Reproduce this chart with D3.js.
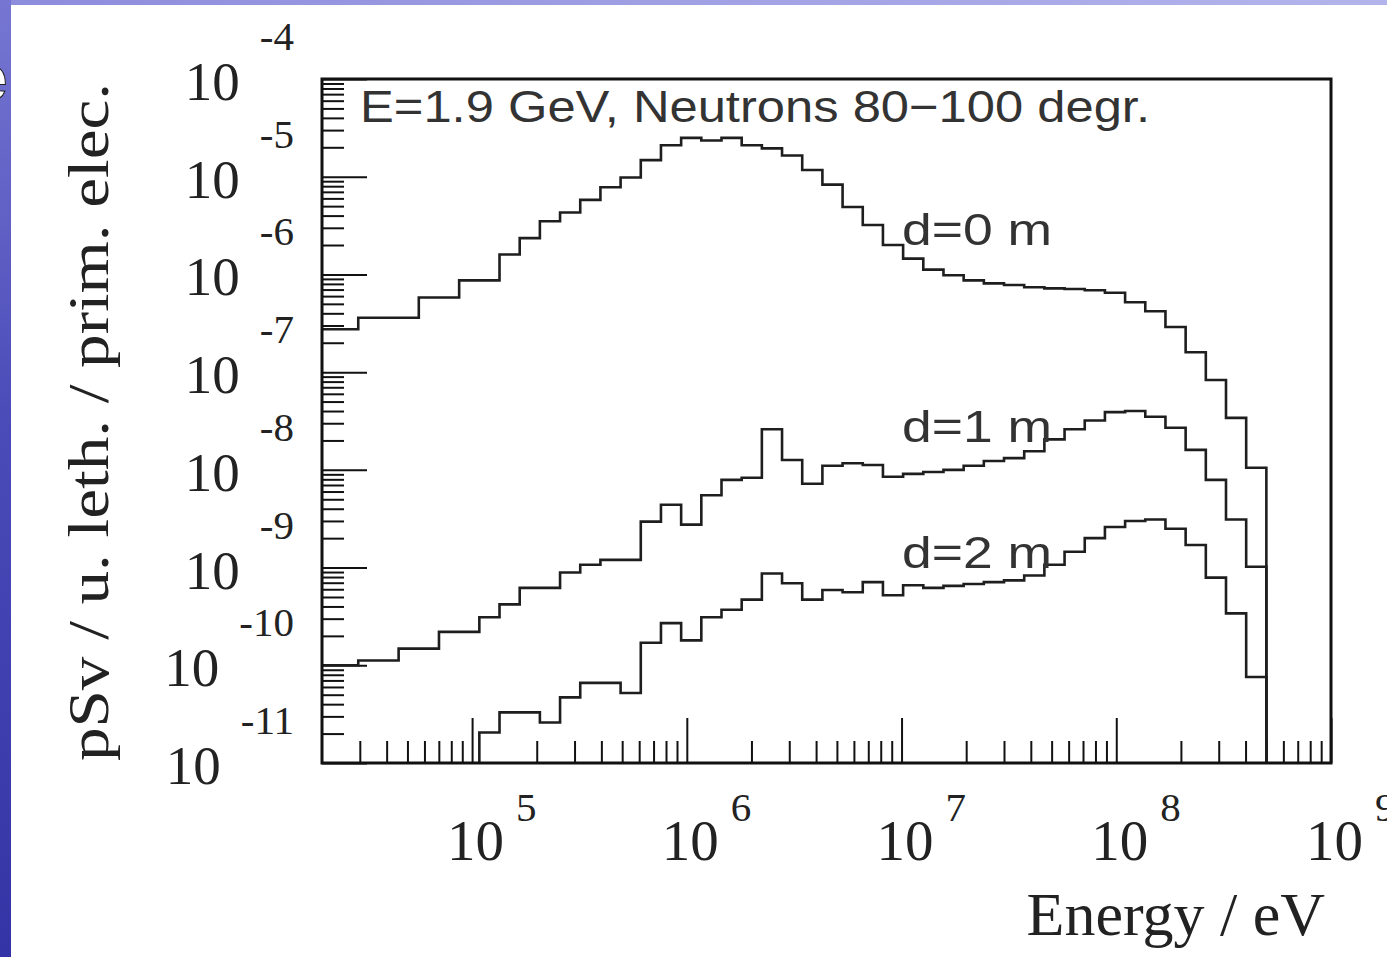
<!DOCTYPE html>
<html lang="en">
<head>
<meta charset="UTF-8">
<title>Neutron dose spectra</title>
<script src="https://d3js.org/d3.v7.min.js"></script>
<style>
  body { margin: 0; background: #fff; overflow: hidden; }
  svg { display: block; }
  .serif { font-family: "Liberation Serif", "Times New Roman", serif; fill: #222; }
  .sans { font-family: "Liberation Sans", Arial, sans-serif; fill: #333; }
</style>
</head>
<body>
<svg id="chart" width="1387" height="957"></svg>
<script>
// histogram binning: 50 log bins from 10 keV to 500 MeV, bins 3..49 fall inside the frame
const binLow = 1e4, binHigh = 5e8, nBins = 50;
const firstBin = 3;

// dose per bin (pSv / u. leth. / prim. elec.), bins 3..49
const dose0 = [2.75e-7, 2.75e-7, 3.6e-7, 3.6e-7, 3.6e-7, 5.8e-7, 5.8e-7, 8.7e-7, 8.7e-7, 1.6e-6,
  2.35e-6, 3.5e-6, 4.3e-6, 5.8e-6, 7.8e-6, 9.8e-6, 1.48e-5, 2.1e-5, 2.5e-5, 2.35e-5,
  2.5e-5, 2.1e-5, 1.95e-5, 1.65e-5, 1.17e-5, 8.3e-6, 4.9e-6, 3.2e-6, 2.0e-6, 1.45e-6,
  1.12e-6, 9.8e-7, 8.7e-7, 8.1e-7, 7.8e-7, 7.4e-7, 7.2e-7, 7.1e-7, 6.9e-7, 6.5e-7,
  5.2e-7, 4.2e-7, 2.9e-7, 1.6e-7, 8.3e-8, 3.4e-8, 1.05e-8];
const dose1 = [1.0e-10, 1.0e-10, 1.12e-10, 1.12e-10, 1.48e-10, 1.48e-10, 2.2e-10, 2.2e-10, 3.1e-10, 4.2e-10,
  6.2e-10, 6.2e-10, 8.9e-10, 1.07e-9, 1.2e-9, 1.2e-9, 2.95e-9, 4.4e-9, 2.75e-9, 5.5e-9,
  7.9e-9, 8.3e-9, 2.6e-8, 1.26e-8, 7.2e-9, 1.1e-8, 1.17e-8, 1.12e-8, 8.5e-9, 9.1e-9,
  9.5e-9, 1.0e-8, 1.1e-8, 1.23e-8, 1.32e-8, 1.55e-8, 2.05e-8, 2.6e-8, 3.2e-8, 3.9e-8,
  4.0e-8, 3.5e-8, 2.7e-8, 1.6e-8, 7.9e-9, 3.1e-9, 1.02e-9];
const dose2 = [null, null, null, null, null, null, null, null, 2.05e-11, 3.3e-11,
  3.3e-11, 2.6e-11, 4.7e-11, 6.6e-11, 6.6e-11, 5.2e-11, 1.7e-10, 2.7e-10, 1.8e-10, 3.1e-10,
  3.7e-10, 4.7e-10, 8.7e-10, 6.9e-10, 4.7e-10, 5.9e-10, 5.6e-10, 7.1e-10, 5.2e-10, 6.6e-10,
  6.2e-10, 6.5e-10, 6.8e-10, 7.1e-10, 7.4e-10, 8.3e-10, 1.07e-9, 1.45e-9, 2.0e-9, 2.6e-9,
  3.0e-9, 3.1e-9, 2.5e-9, 1.7e-9, 7.9e-10, 3.4e-10, 7.6e-11];

const seriesLabels = ["d=0 m", "d=1 m", "d=2 m"];
const titleText = "E=1.9 GeV, Neutrons 80\u2212100 degr.";
const xTitle = "Energy / eV";
const yTitle = "pSv / u. leth. / prim. elec.";
const xExponents = [5, 6, 7, 8, 9];
const yExponents = [-4, -5, -6, -7, -8, -9, -10, -11];

const svg = d3.select("#chart");
const frameL = 322, frameR = 1331, frameT = 79, frameB = 763;

const x = d3.scaleLog().domain([2e4, 1e9]).range([frameL, frameR]);
const y = d3.scaleLog().domain([1e-11, 1e-4]).range([frameB, frameT]);

// slide background strips
const defs = svg.append("defs");
const gl = defs.append("linearGradient").attr("id", "sideStrip").attr("x1", 0).attr("y1", 0).attr("x2", 0).attr("y2", 1);
gl.append("stop").attr("offset", "0%").attr("stop-color", "#7676d2");
gl.append("stop").attr("offset", "45%").attr("stop-color", "#4a4ab8");
gl.append("stop").attr("offset", "100%").attr("stop-color", "#3434a6");
const gt = defs.append("linearGradient").attr("id", "topStrip").attr("x1", 0).attr("y1", 0).attr("x2", 1).attr("y2", 0);
gt.append("stop").attr("offset", "0%").attr("stop-color", "#8c8cdc");
gt.append("stop").attr("offset", "100%").attr("stop-color", "#b4b4ec");
defs.append("clipPath").attr("id", "stripClip").append("rect")
  .attr("x", 0).attr("y", 0).attr("width", 11).attr("height", 957);
defs.append("clipPath").attr("id", "frameClip").append("rect")
  .attr("x", frameL).attr("y", frameT).attr("width", frameR - frameL).attr("height", frameB - frameT);

svg.append("rect").attr("x", 0).attr("y", 0).attr("width", 1387).attr("height", 5).attr("fill", "url(#topStrip)");
svg.append("rect").attr("x", 0).attr("y", 0).attr("width", 11).attr("height", 957).attr("fill", "url(#sideStrip)");
svg.append("text").attr("clip-path", "url(#stripClip)")
  .attr("x", -28).attr("y", 100)
  .style("font-family", "'Liberation Sans', Arial, sans-serif").style("font-weight", "bold")
  .style("font-size", "64px").attr("fill", "#fff").attr("stroke", "#222").attr("stroke-width", 1)
  .text("e");

// ticks (inside the frame, ROOT style)
const decadesX = d3.range(4, 9);
const minorX = decadesX.flatMap(e => d3.range(2, 10).map(m => m * Math.pow(10, e))).filter(v => v > 2e4 && v < 1e9);
const majorX = xExponents.map(e => Math.pow(10, e));
const decadesY = d3.range(-11, -4);
const minorY = decadesY.flatMap(e => d3.range(2, 10).map(m => m * Math.pow(10, e)));
const majorY = yExponents.map(e => Math.pow(10, e));

function styleAxis(g) {
  g.select(".domain").remove();
  g.selectAll(".tick line").attr("stroke", "#111").attr("stroke-width", 2);
}

svg.append("g").attr("transform", `translate(0,${frameB})`)
  .call(d3.axisBottom(x).tickValues(minorX).tickSizeInner(-22).tickSizeOuter(0).tickFormat(""))
  .call(styleAxis);
svg.append("g").attr("transform", `translate(0,${frameB})`)
  .call(d3.axisBottom(x).tickValues(majorX).tickSizeInner(-45).tickSizeOuter(0).tickFormat(""))
  .call(styleAxis);
svg.append("g").attr("transform", `translate(${frameL},0)`)
  .call(d3.axisLeft(y).tickValues(minorY).tickSizeInner(-22).tickSizeOuter(0).tickFormat(""))
  .call(styleAxis);
svg.append("g").attr("transform", `translate(${frameL},0)`)
  .call(d3.axisLeft(y).tickValues(majorY).tickSizeInner(-45).tickSizeOuter(0).tickFormat(""))
  .call(styleAxis);

// histograms
const edges = d3.range(nBins + 1).map(i => binLow * Math.pow(binHigh / binLow, i / nBins));
const floor = 1e-13;
const line = d3.line().x(d => x(d[0])).y(d => y(d[1]));

function stepPoints(values) {
  const pts = [];
  values.forEach((v, j) => {
    const k = firstBin + j;
    const val = v == null ? floor : v;
    pts.push([edges[k], val], [edges[k + 1], val]);
  });
  pts.push([edges[nBins], floor]);
  return pts;
}

const plot = svg.append("g").attr("clip-path", "url(#frameClip)");
plot.selectAll("path.hist")
  .data([dose0, dose1, dose2])
  .join("path")
  .attr("class", "hist")
  .attr("d", d => line(stepPoints(d)))
  .attr("fill", "none")
  .attr("stroke", "#1e1e1e")
  .attr("stroke-width", 2.6)
  .attr("stroke-linejoin", "miter");

// frame
svg.append("rect")
  .attr("x", frameL).attr("y", frameT)
  .attr("width", frameR - frameL).attr("height", frameB - frameT)
  .attr("fill", "none").attr("stroke", "#111").attr("stroke-width", 3);

// text inside the frame
svg.append("text").attr("class", "sans")
  .attr("x", 360).attr("y", 122)
  .attr("textLength", 790).attr("lengthAdjust", "spacingAndGlyphs")
  .style("font-size", "44px")
  .text(titleText);

const labelPos = [[902, 245], [902, 442], [902, 568]];
svg.selectAll("text.serieslabel")
  .data(seriesLabels)
  .join("text")
  .attr("class", "sans serieslabel")
  .attr("x", (d, i) => labelPos[i][0])
  .attr("y", (d, i) => labelPos[i][1])
  .attr("textLength", 150).attr("lengthAdjust", "spacingAndGlyphs")
  .style("font-size", "44px")
  .text(d => d);

// x tick labels: 10^n
const xl = svg.selectAll("text.xlab")
  .data(xExponents)
  .join("text")
  .attr("class", "serif xlab")
  .attr("x", d => x(Math.pow(10, d)) - 25)
  .attr("y", 860)
  .style("font-size", "57px");
xl.append("tspan").text("10");
xl.append("tspan").attr("dx", 12).attr("dy", -39).style("font-size", "41px").text(d => d);

// y tick labels: 10^-n, right aligned
const yl = svg.selectAll("text.ylab")
  .data(yExponents)
  .join("text")
  .attr("class", "serif ylab")
  .attr("x", 294)
  .attr("y", d => y(Math.pow(10, d)) + 21)
  .attr("text-anchor", "end")
  .style("font-size", "55px");
yl.append("tspan").text("10");
yl.append("tspan").attr("dx", 20).attr("dy", -50).style("font-size", "41px").text(d => "-" + Math.abs(d));

// axis titles
svg.append("text").attr("class", "serif")
  .attr("x", 1325).attr("y", 935)
  .attr("text-anchor", "end")
  .style("font-size", "62px")
  .text(xTitle);

svg.append("text").attr("class", "serif")
  .attr("transform", "translate(108,422) rotate(-90)")
  .attr("text-anchor", "middle")
  .attr("textLength", 678).attr("lengthAdjust", "spacingAndGlyphs")
  .style("font-size", "57px")
  .text(yTitle);
</script>
</body>
</html>
